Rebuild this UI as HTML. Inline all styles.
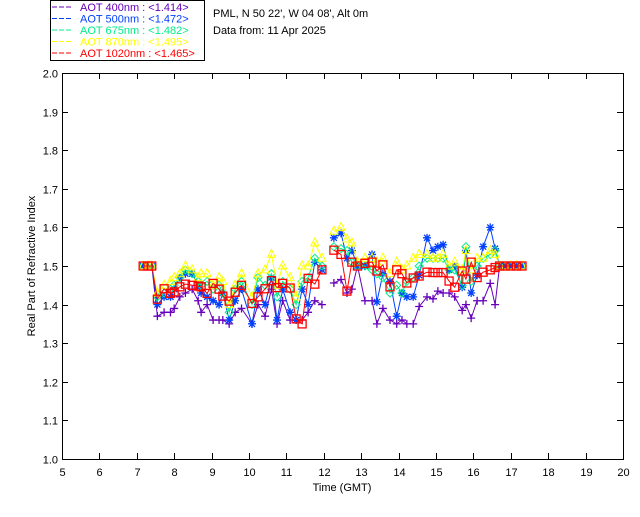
<!DOCTYPE html>
<html><head><meta charset="utf-8"><style>
body{margin:0;background:#fff;}
svg text{font-family:"Liberation Sans",sans-serif;font-size:11px;}
</style></head><body>
<svg id="chart" width="640" height="512" xmlns="http://www.w3.org/2000/svg">
<rect width="640" height="512" fill="#fff"/>
<g>
<rect x="50.5" y="0.5" width="154" height="60" fill="none" stroke="#000"/>
<g id="legend-entries"></g>
</g>
<text x="213" y="17">PML, N 50 22', W 04 08', Alt 0m</text>
<text x="213" y="34">Data from: 11 Apr 2025</text>
<g id="axes"></g>
<g id="series"></g>
<text x="342" y="491" text-anchor="middle">Time (GMT)</text>
<text transform="translate(35,266) rotate(-90)" text-anchor="middle">Real Part of Refractive Index</text>
</svg>
<script>
const xTicks=[5,6,7,8,9,10,11,12,13,14,15,16,17,18,19,20];
const yTicks=[1.0,1.1,1.2,1.3,1.4,1.5,1.6,1.7,1.8,1.9,2.0];
const times=[7.17,7.3,7.4,7.55,7.73,7.9,8.0,8.15,8.3,8.48,8.64,8.72,8.88,9.04,9.2,9.3,9.47,9.63,9.8,
10.08,10.24,10.43,10.6,10.75,10.9,11.1,11.26,11.42,11.58,11.76,11.95,null,
12.27,12.46,12.62,12.75,12.9,13.1,13.29,13.42,13.58,13.77,13.95,14.09,14.22,14.39,14.55,14.76,14.92,15.05,15.19,15.35,15.5,15.7,15.8,15.94,16.1,16.26,16.45,16.58,16.7,16.85,17.0,17.15,17.3];
const aot400=[1.50,1.50,1.50,1.37,1.38,1.38,1.39,1.42,1.43,1.44,1.41,1.38,1.40,1.36,1.36,1.36,1.35,1.38,1.39,
1.35,1.40,1.37,1.44,1.35,1.41,1.36,1.36,1.36,1.38,1.41,1.40,null,
1.456,1.465,1.43,1.44,1.50,1.41,1.41,1.35,1.39,1.36,1.35,1.36,1.35,1.35,1.395,1.42,1.415,1.435,1.43,1.43,1.42,1.385,1.40,1.365,1.41,1.41,1.455,1.40,1.5,1.5,1.5,1.5,1.5];
const aot500=[1.50,1.50,1.50,1.40,1.42,1.42,1.44,1.47,1.48,1.48,1.45,1.43,1.42,1.41,1.40,1.43,1.36,1.41,1.44,
1.35,1.44,1.40,1.47,1.36,1.44,1.38,1.36,1.44,1.40,1.51,1.49,null,
1.573,1.585,1.52,1.54,1.50,1.50,1.53,1.407,1.48,1.46,1.37,1.43,1.42,1.42,1.476,1.573,1.54,1.55,1.555,1.49,1.50,1.445,1.54,1.43,1.476,1.55,1.60,1.545,1.5,1.5,1.5,1.5,1.5];
const aot675=[1.50,1.50,1.50,1.42,1.43,1.44,1.45,1.47,1.49,1.48,1.46,1.45,1.46,1.44,1.45,1.43,1.38,1.44,1.46,
1.40,1.47,1.45,1.48,1.42,1.46,1.44,1.40,1.46,1.47,1.52,1.50,null,
1.55,1.545,1.54,1.51,1.50,1.50,1.49,1.48,1.47,1.43,1.45,1.43,1.46,1.47,1.50,1.52,1.52,1.52,1.52,1.49,1.49,1.45,1.55,1.46,1.50,1.52,1.53,1.54,1.5,1.5,1.5,1.5,1.5];
const aot870=[1.50,1.50,1.50,1.43,1.45,1.46,1.47,1.48,1.50,1.49,1.47,1.48,1.48,1.45,1.47,1.46,1.40,1.45,1.48,
1.42,1.48,1.49,1.53,1.45,1.50,1.47,1.42,1.50,1.50,1.56,1.52,null,
1.59,1.60,1.57,1.56,1.51,1.52,1.52,1.51,1.52,1.48,1.51,1.49,1.50,1.52,1.53,1.53,1.52,1.52,1.53,1.50,1.51,1.49,1.54,1.49,1.52,1.52,1.54,1.53,1.5,1.5,1.5,1.5,1.5];
const aot1020=[1.50,1.50,1.50,1.414,1.441,1.429,1.433,1.446,1.453,1.45,1.448,1.446,1.429,1.455,1.44,1.422,1.409,1.432,1.45,
1.403,1.42,1.441,1.462,1.444,1.455,1.443,1.363,1.35,1.468,1.453,1.49,null,
1.541,1.53,1.435,1.51,1.50,1.507,1.51,1.487,1.503,1.446,1.49,1.48,1.456,1.469,1.474,1.484,1.483,1.483,1.483,1.461,1.445,1.487,1.466,1.51,1.47,1.484,1.49,1.496,1.5,1.5,1.5,1.5,1.5];
const seriesNames=["AOT  400nm : <1.414>","AOT  500nm : <1.472>","AOT  675nm : <1.482>","AOT  870nm : <1.495>","AOT 1020nm : <1.465>"];
const NS="http://www.w3.org/2000/svg";
const L=62,R=623,T=73,B=459;
function xs(t){return L+(t-5)/15*(R-L);}
function ys(v){return B-(v-1)/1*(B-T);}
function mk(tag,attrs,parent){const e=document.createElementNS(NS,tag);for(const k in attrs)e.setAttribute(k,attrs[k]);parent.appendChild(e);return e;}
const axes=document.getElementById('axes');
const frame=mk('rect',{x:L+.5,y:T+.5,width:R-L,height:B-T,fill:'none',stroke:'#000'},axes);


xTicks.forEach(t=>{const x=Math.round(xs(t))+.5;
mk('line',{x1:x,x2:x,y1:B,y2:B-6,stroke:'#000'},axes);mk('line',{x1:x,x2:x,y1:T,y2:T+6,stroke:'#000'},axes);
const tx=mk('text',{x:x,y:B+17,'text-anchor':'middle'},axes);tx.textContent=t;

});
yTicks.forEach(v=>{const y=Math.round(ys(v))+.5;
mk('line',{x1:L,x2:L+6,y1:y,y2:y,stroke:'#000'},axes);mk('line',{x1:R-6,x2:R,y1:y,y2:y,stroke:'#000'},axes);
const tx=mk('text',{x:L-4,y:y+4,'text-anchor':'end'},axes);tx.textContent=v.toFixed(1);

});
const colors=["#6600bb","#0040ff","#00ee88","#ffff00","#ff0000"];
const data=[aot400,aot500,aot675,aot870,aot1020];
const markers=["plus","star","diamond","triangle","square"];
const sg=document.getElementById('series');
function marker(kind,x,y,c,g){
 if(kind==="plus"){mk('path',{d:`M${x-4},${y}H${x+4}M${x},${y-4}V${y+4}`,stroke:c,'stroke-width':1.3},g);}
 else if(kind==="star"){mk('path',{d:`M${x-4},${y}H${x+4}M${x},${y-4}V${y+4}M${x-3},${y-3}L${x+3},${y+3}M${x-3},${y+3}L${x+3},${y-3}`,stroke:c,'stroke-width':1.3},g);}
 else if(kind==="diamond"){mk('path',{d:`M${x},${y-4}L${x+4},${y}L${x},${y+4}L${x-4},${y}Z`,stroke:c,fill:'none'},g);}
 else if(kind==="triangle"){mk('path',{d:`M${x},${y-5}L${x+4},${y+3}L${x-4},${y+3}Z`,stroke:c,fill:'none'},g);}
 else {mk('rect',{x:x-4,y:y-4,width:8,height:8,stroke:c,fill:'none','stroke-width':1.3},g);}
}
data.forEach((vals,si)=>{
 const g=mk('g',{},sg);
 
 
 let d="",pen=false;
 times.forEach((t,i)=>{const v=vals[i];if(t===null||v===null){pen=false;return;}
  d+=(pen?"L":"M")+xs(t).toFixed(1)+","+ys(v).toFixed(1);pen=true;});
 mk('path',{d:d,fill:'none',stroke:colors[si],'stroke-width':1},g);
 times.forEach((t,i)=>{const v=vals[i];if(t===null||v===null)return;marker(markers[si],xs(t),ys(v),colors[si],g);});
});
const lg=document.getElementById('legend-entries');
seriesNames.forEach((n,i)=>{const y=11+i*11.5;
 const ln=mk('line',{x1:52,x2:73,y1:y-4,y2:y-4,stroke:colors[i],'stroke-dasharray':'5,2'},lg);
 const tx=mk('text',{x:80,y:y,fill:colors[i],'xml:space':'preserve'},lg);tx.textContent=n;
 
 
});
</script>
</body></html>
